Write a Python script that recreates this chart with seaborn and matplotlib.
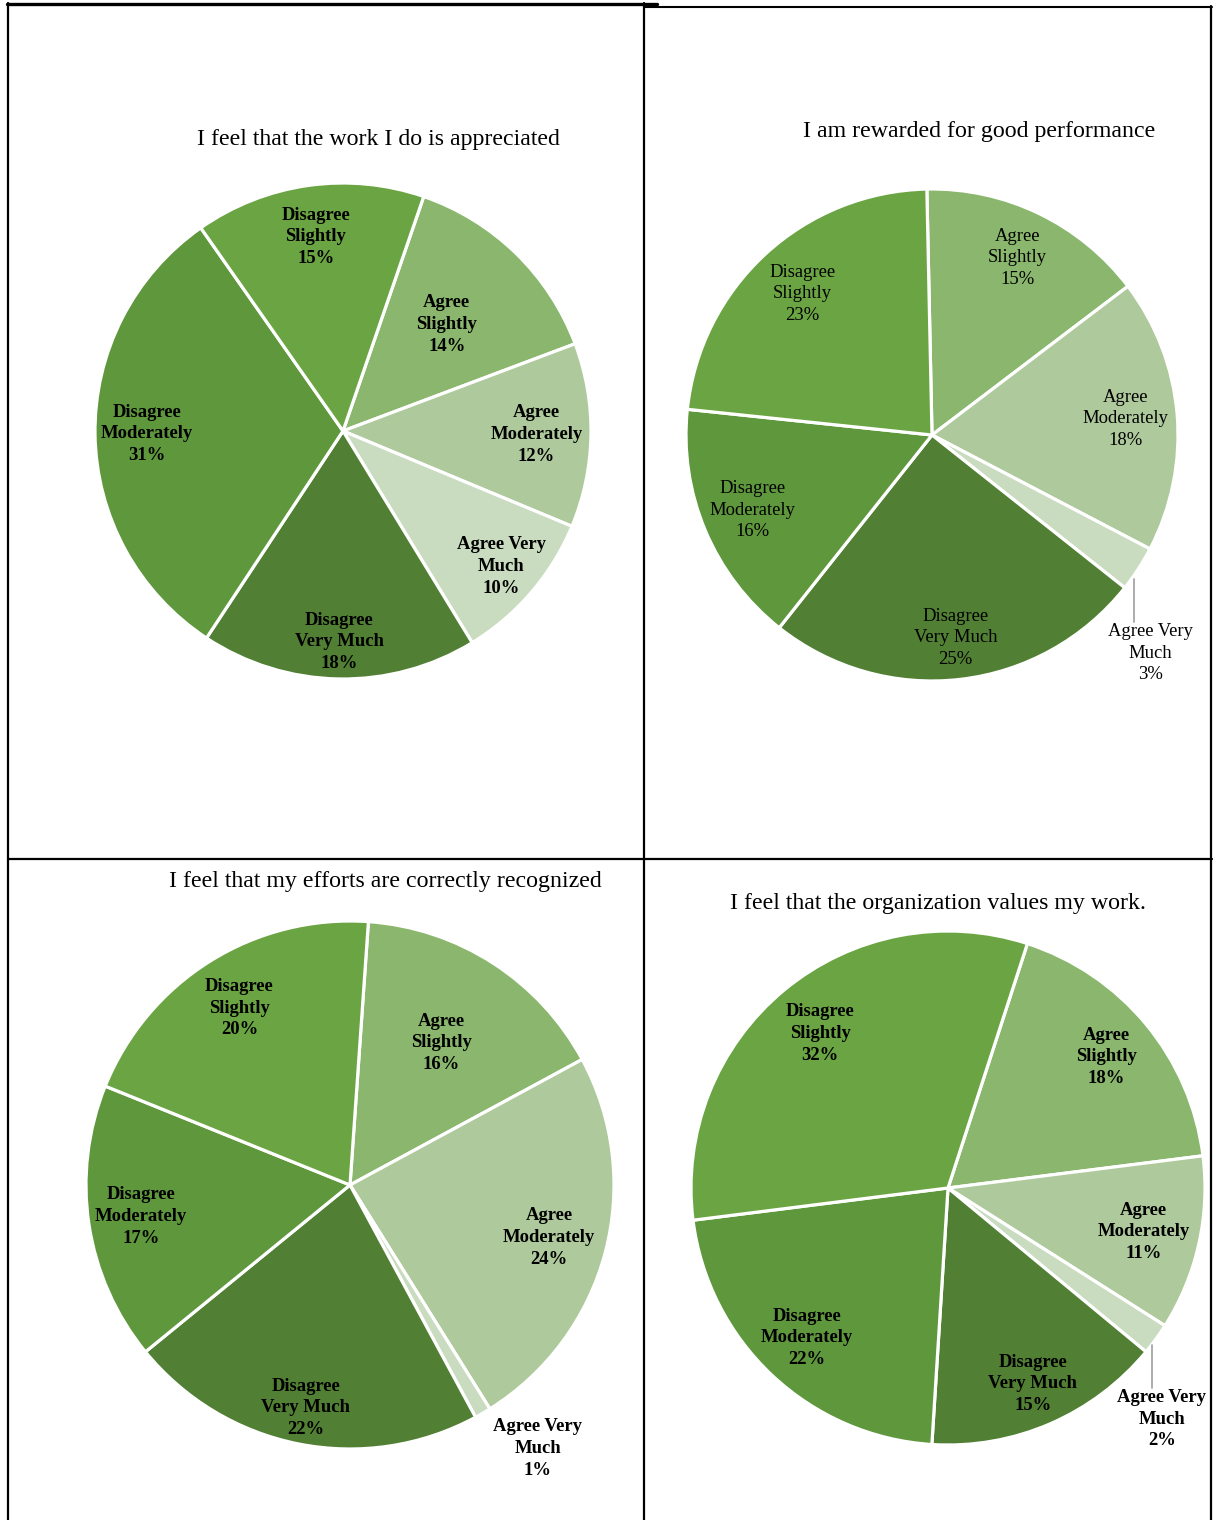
import matplotlib
matplotlib.use("Agg")
import matplotlib.pyplot as plt
import seaborn as sns
import numpy as np
from matplotlib.lines import Line2D

# ---------------- data ----------------
categories = ["Agree Slightly", "Agree Moderately", "Agree Very Much",
              "Disagree Very Much", "Disagree Moderately", "Disagree Slightly"]
slice_labels = ["Agree\nSlightly", "Agree\nModerately", "Agree Very\nMuch",
                "Disagree\nVery Much", "Disagree\nModerately", "Disagree\nSlightly"]

titles = ["I feel that the work I do is appreciated",
          "I am rewarded for good performance",
          "I feel that my efforts are correctly recognized",
          "I feel that the organization values my work."]

values_appreciated = [14, 12, 10, 18, 31, 15]
values_rewarded = [15, 18, 3, 25, 16, 23]
values_recognized = [16, 24, 1, 22, 17, 20]
values_org_values = [18, 11, 2, 15, 22, 32]

colors = ["#8ab76d", "#aec99b", "#c9dcc0", "#517f34", "#5f973d", "#6ba543"]

# ---------------- layout (pixels, y measured from top) ----------------
W, H = 1214, 1520
pies = [
    dict(vals=values_appreciated, title=titles[0], cx=343, cy=431, r=248, start=71.0,
         bold=True, title_xy=(378, 140), dist=[0.60, 0.78, 0.84, 0.85, 0.79, 0.79],
         outside=None),
    dict(vals=values_rewarded, title=titles[1], cx=932, cy=435, r=246, start=91.2,
         bold=False, title_xy=(979, 132), dist=[0.80, 0.79, 0.8, 0.83, 0.79, 0.78],
         outside=dict(leader=True, dx=16, line_top=10, line_len=43, text_gap=1)),
    dict(vals=values_recognized, title=titles[2], cx=350, cy=1185, r=264, start=86.0,
         bold=True, title_xy=(385, 881), dist=[0.64, 0.78, 0.8, 0.86, 0.80, 0.79],
         outside=dict(leader=False, dx=59, line_top=5, line_len=0, text_gap=0)),
    dict(vals=values_org_values, title=titles[3], cx=948, cy=1188, r=257, start=72.0,
         bold=True, title_xy=(938, 904), dist=[0.80, 0.78, 0.8, 0.83, 0.80, 0.78],
         outside=dict(leader=True, dx=10, line_top=6, line_len=43, text_gap=1)),
]

sns.set_theme(style="white")
plt.rcParams["font.family"] = ["Liberation Serif", "DejaVu Serif"]

fig = plt.figure(figsize=(W / 100, H / 100), dpi=100)
ax = fig.add_axes([0, 0, 1, 1])
ax.set_xlim(0, W)
ax.set_ylim(0, H)
ax.set_aspect("equal")
ax.axis("off")

LABEL_FS = 13.4
TITLE_FS = 17.2
LS = 1.36

for p in pies:
    wedges, _ = ax.pie(p["vals"], colors=colors, startangle=p["start"], counterclock=False,
                       center=(p["cx"], H - p["cy"]), radius=p["r"],
                       wedgeprops=dict(edgecolor="white", linewidth=2.3),
                       frame=True)
    weight = "bold" if p["bold"] else "normal"
    for i, w in enumerate(wedges):
        mid = np.deg2rad((w.theta1 + w.theta2) / 2)
        txt = f"{slice_labels[i]}\n{p['vals'][i]}%"
        ux, uy = np.cos(mid), np.sin(mid)
        if p["vals"][i] < 5 and p["outside"] is not None:
            o = p["outside"]
            px = w.center[0] + ux * p["r"]
            py = w.center[1] + uy * p["r"]
            lx = px - 4
            y0 = py - o["line_top"]
            if o["leader"]:
                ax.add_line(Line2D([lx, lx], [y0, y0 - o["line_len"]], color="#a6a6a6", lw=1.3))
            ax.text(lx + o["dx"], y0 - o["line_len"] - o["text_gap"], txt, ha="center", va="top",
                    fontsize=LABEL_FS, fontweight=weight, color="black", linespacing=LS)
        else:
            d = p["dist"][i] * p["r"]
            ax.text(w.center[0] + ux * d, w.center[1] + uy * d, txt, ha="center", va="center",
                    fontsize=LABEL_FS, fontweight=weight, color="black", linespacing=LS)
    ax.text(p["title_xy"][0], H - p["title_xy"][1], p["title"], ha="center", va="center",
            fontsize=TITLE_FS, color="black")

ax.set_xlim(0, W)
ax.set_ylim(0, H)

# ---------------- table borders ----------------
def hline(x0, x1, y, lw=2.0):
    fig.add_artist(Line2D([x0 / W, x1 / W], [1 - y / H, 1 - y / H], color="black", lw=lw))

def vline(x, y0, y1, lw=1.6):
    fig.add_artist(Line2D([x / W, x / W], [1 - y0 / H, 1 - y1 / H], color="black", lw=lw))

hline(7, 657, 4, lw=2.4)
hline(644, 1212, 7, lw=1.5)
hline(8, 1212, 859, lw=1.6)
vline(8, 3, 1520)
vline(644, 3, 1520)
vline(1211, 6, 1520)

fig.savefig("out.png", dpi=100)
